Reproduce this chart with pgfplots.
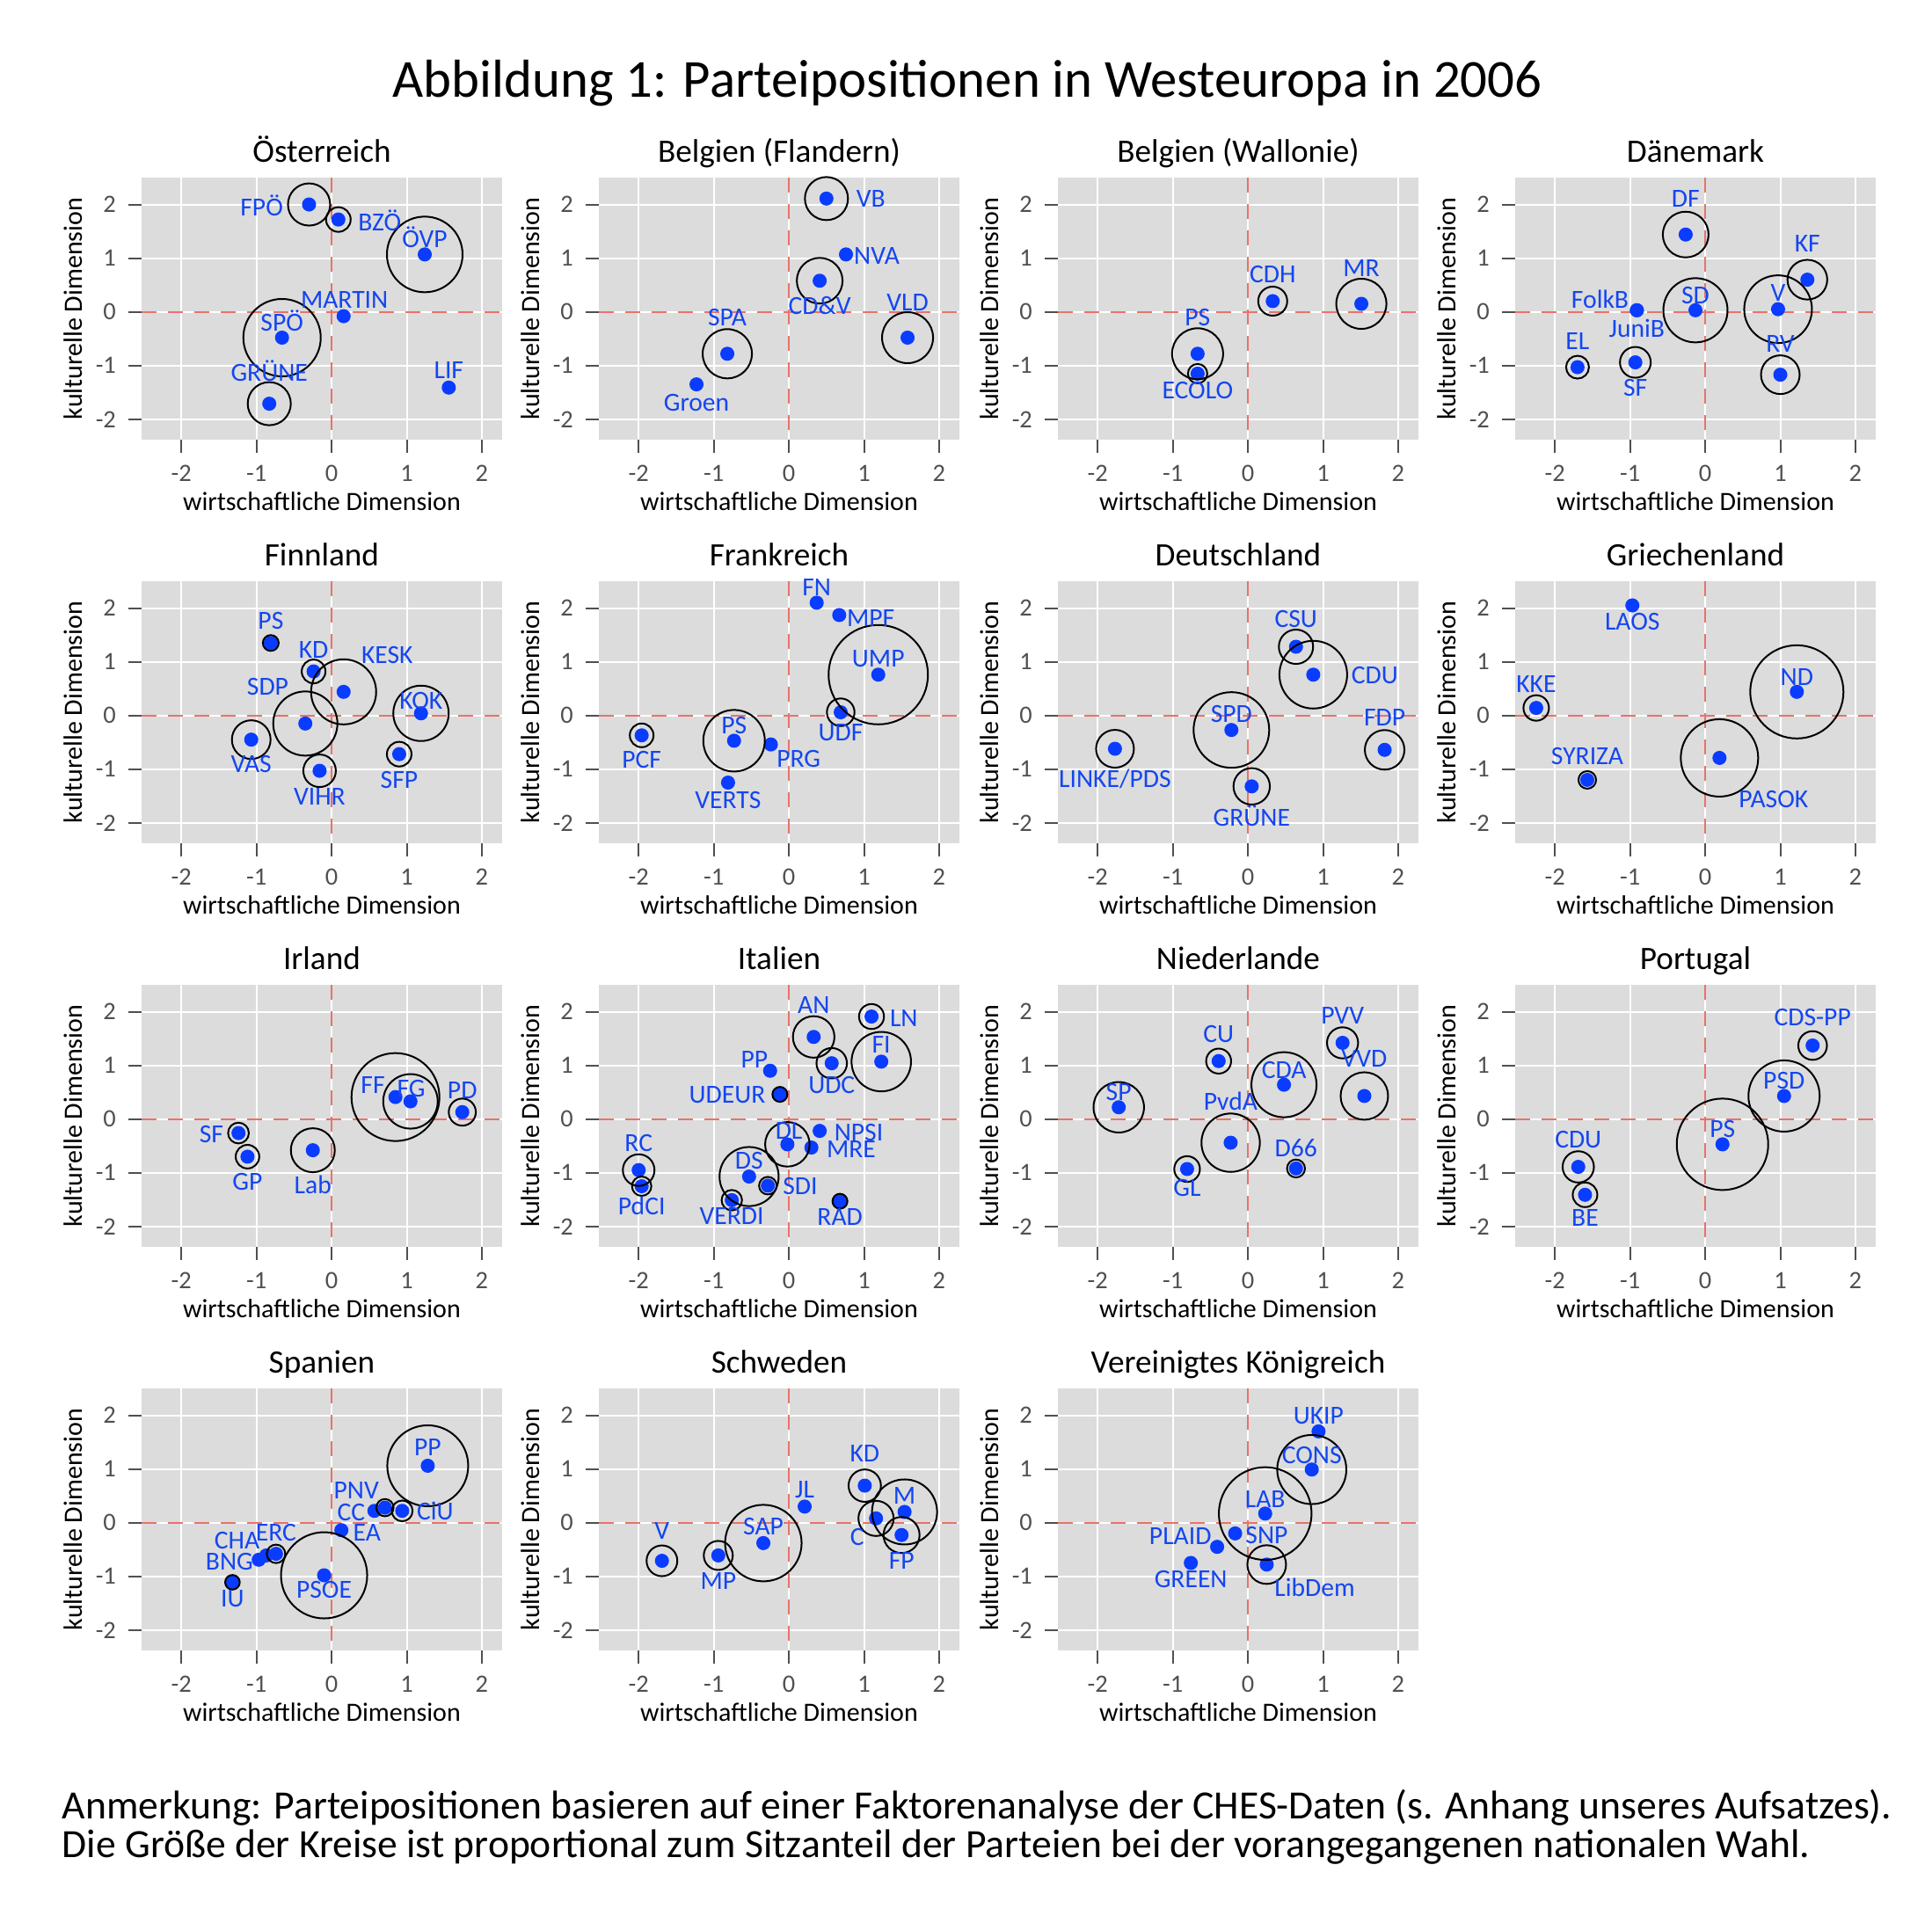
\documentclass[border=0pt]{standalone}
\usepackage{fontspec}
\setmainfont{Carlito}
\usepackage{pgfplots}
\usepackage{pgfplotstable}
\pgfplotsset{compat=1.18}
\definecolor{panelbg}{RGB}{220,220,220}
\definecolor{ptblue}{RGB}{10,60,255}
\definecolor{labblue}{RGB}{20,70,240}
\definecolor{zerored}{RGB}{232,115,106}
\definecolor{tickgray}{RGB}{80,80,80}

\pgfplotsset{
  panel/.style={
    anchor=north west,
    scale only axis, width=102.5pt, height=74.5pt,
    xmin=-2.53, xmax=2.27, ymin=-2.38, ymax=2.5,
    axis background/.style={fill=panelbg},
    axis line style={draw=none},
    xtick={-2,-1,0,1,2}, ytick={-2,-1,0,1,2},
    xticklabels={-2,-1,0,1,2}, yticklabels={-2,-1,0,1,2},
    grid=major, major grid style={white, line width=0.5pt},
    tick align=outside, tick pos=left, major tick length=3.75pt,
    tick style={tickgray, line width=0.5pt},
    ticklabel style={font=\fontsize{7.1}{8.5}\selectfont, text=tickgray},
    xlabel={wirtschaftliche Dimension}, ylabel={kulturelle Dimension},
    label style={font=\fontsize{7.5}{9}\selectfont},
    xlabel style={at={(axis description cs:0.5,-0.235)}, anchor=center},
    ylabel style={at={(axis description cs:-0.19,0.5)}, anchor=center},
    every axis title shift=0pt,
    title style={at={(axis description cs:0.5,1.0604)}, anchor=base, inner sep=0pt, font=\fontsize{9.3}{11}\selectfont},
  },
  zeroline/.style={zerored, line width=0.5pt, dash pattern=on 4.25pt off 3.25pt, mark=none},
  ptstyle/.style={only marks, mark=*, mark size=1.8pt, mark options={draw=ptblue, fill=ptblue}},
  circstyle/.style={scatter, only marks, mark=o,
    scatter/use mapped color={draw=black, fill=none},
    mark options={line width=0.5pt},
    visualization depends on={0.25*\thisrow{r} \as \rr},
    scatter/@pre marker code/.append style={/tikz/mark size=\rr},
    restrict expr to domain={\thisrow{r}}{1:1000}},
  labstyle/.style={only marks, mark=none, nodes near coords, point meta=explicit symbolic,
    every node near coord/.append style={anchor=center, text=labblue, inner sep=0pt,
      font=\fontsize{7.4}{8.5}\selectfont}},
}

\newcommand{\panel}[4]{%
\begin{axis}[panel, at={(#1,#2)}, title={#3}]
  \addplot[zeroline] coordinates {(-2.53,0) (2.27,0)};
  \addplot[zeroline] coordinates {(0,2.5) (0,-2.38)};
  \addplot[ptstyle] table[x=x,y=y] {#4};
  \addplot[circstyle] table[x=x,y=y] {#4};
  \addplot[labstyle] table[x=lx,y=ly,meta=lab] {#4};
\end{axis}}

\pgfplotstableread{
x y r lx ly lab
-0.30 2.00 24 -0.93 1.98 FPÖ
0.09 1.72 14 0.64 1.70 BZÖ
1.24 1.07 43 1.24 1.39 ÖVP
0.16 -0.08 0 0.17 0.23 MARTIN
-0.66 -0.48 44 -0.66 -0.17 SPÖ
-0.83 -1.71 24.5 -0.83 -1.10 GRÜNE
1.56 -1.41 0 1.56 -1.09 LIF
}\tabAT

\pgfplotstableread{
x y r lx ly lab
0.50 2.11 24.5 1.09 2.10 VB
0.76 1.07 0 1.17 1.05 NVA
0.41 0.58 26 0.41 0.12 CD\&V
-0.82 -0.78 28 -0.82 -0.11 SPA
-1.23 -1.35 0 -1.23 -1.70 Groen
1.58 -0.48 29 1.58 0.18 VLD
}\tabBF

\pgfplotstableread{
x y r lx ly lab
0.33 0.20 16.5 0.33 0.70 CDH
1.51 0.15 28.5 1.51 0.82 MR
-0.67 -0.78 29 -0.67 -0.11 PS
-0.67 -1.15 11 -0.67 -1.46 ECOLO
}\tabBW

\pgfplotstableread{
x y r lx ly lab
-0.26 1.44 26 -0.26 2.11 DF
1.36 0.60 22.6 1.36 1.27 KF
-0.91 0.03 0 -1.40 0.24 FolkB
-0.91 0.03 0 -0.91 -0.30 JuniB
-0.13 0.03 36.5 -0.13 0.30 SD
0.97 0.05 38.5 0.97 0.35 V
1.00 -1.17 22 1.00 -0.59 RV
-1.70 -1.03 13 -1.70 -0.54 EL
-0.93 -0.94 17.5 -0.93 -1.41 SF
}\tabDK

\pgfplotstableread{
x y r lx ly lab
-0.81 1.35 9 -0.81 1.77 PS
-0.24 0.82 13.5 -0.24 1.22 KD
0.16 0.44 37 0.74 1.13 KESK
-0.35 -0.15 36.5 -0.85 0.53 SDP
1.19 0.04 31.5 1.19 0.27 KOK
-1.07 -0.45 22 -1.07 -0.91 VAS
0.90 -0.72 14 0.90 -1.20 SFP
-0.16 -1.03 18.5 -0.16 -1.51 VIHR
}\tabFI

\pgfplotstableread{
x y r lx ly lab
0.37 2.10 0 0.37 2.38 FN
0.67 1.87 0 1.09 1.82 MPF
1.19 0.76 56.5 1.19 1.05 UMP
0.69 0.06 15.7 0.69 -0.32 UDF
-1.96 -0.37 13.5 -1.96 -0.83 PCF
-0.73 -0.47 35 -0.73 -0.19 PS
-0.24 -0.54 0 0.13 -0.81 PRG
-0.81 -1.25 0 -0.81 -1.58 VERTS
}\tabFR

\pgfplotstableread{
x y r lx ly lab
0.64 1.28 19.5 0.64 1.80 CSU
0.87 0.76 38.5 1.69 0.75 CDU
-0.22 -0.27 43 -0.22 0.02 SPD
1.82 -0.64 22.5 1.82 -0.03 FDP
-1.77 -0.62 21.5 -1.77 -1.18 LINKE/PDS
0.05 -1.32 20.7 0.05 -1.86 GRÜNE
}\tabDE

\pgfplotstableread{
x y r lx ly lab
-0.97 2.05 0 -0.97 1.74 LAOS
1.22 0.44 53 1.22 0.72 ND
-2.25 0.14 14.5 -2.25 0.59 KKE
-1.57 -1.20 10 -1.57 -0.76 SYRIZA
0.19 -0.79 44 0.91 -1.56 PASOK
}\tabGR

\pgfplotstableread{
x y r lx ly lab
0.85 0.41 50 0.55 0.64 FF
1.05 0.33 31 1.06 0.57 FG
1.74 0.13 15.4 1.74 0.54 PD
-1.24 -0.26 11.8 -1.60 -0.29 SF
-1.12 -0.70 13.4 -1.12 -1.16 GP
-0.25 -0.58 25 -0.25 -1.23 Lab
}\tabIE

\pgfplotstableread{
x y r lx ly lab
0.33 1.53 23.6 0.33 2.12 AN
1.10 1.91 14.2 1.53 1.88 LN
1.23 1.07 33.8 1.23 1.39 FI
-0.25 0.90 0 -0.46 1.11 PP
0.57 1.04 17.3 0.57 0.63 UDC
-0.12 0.46 8.5 -0.82 0.45 UDEUR
-0.02 -0.47 25.3 0.00 -0.22 DL
0.41 -0.22 0 0.93 -0.25 NPSI
0.30 -0.53 0 0.83 -0.56 MRE
-2.00 -0.95 18 -2.00 -0.45 RC
-1.96 -1.25 11 -1.96 -1.62 PdCI
-0.53 -1.07 33.6 -0.53 -0.77 DS
-0.28 -1.24 10 0.15 -1.25 SDI
-0.76 -1.51 11.6 -0.76 -1.80 VERDI
0.68 -1.53 8.5 0.68 -1.83 RAD
}\tabIT

\pgfplotstableread{
x y r lx ly lab
1.26 1.42 17.7 1.26 1.93 PVV
-0.39 1.08 14.2 -0.39 1.58 CU
0.48 0.64 37 0.48 0.92 CDA
1.55 0.43 27 1.55 1.12 VVD
-1.72 0.22 28.7 -1.72 0.50 SP
-0.23 -0.44 33.2 -0.23 0.34 PvdA
-0.81 -0.93 14.6 -0.81 -1.28 GL
0.64 -0.92 10.2 0.64 -0.54 D66
}\tabNL

\pgfplotstableread{
x y r lx ly lab
1.43 1.37 16.3 1.43 1.89 CDS-PP
1.05 0.43 40.5 1.05 0.71 PSD
0.23 -0.47 52 0.23 -0.19 PS
-1.69 -0.89 17.8 -1.69 -0.38 CDU
-1.60 -1.41 14 -1.60 -1.84 BE
}\tabPT

\pgfplotstableread{
x y r lx ly lab
1.28 1.06 46 1.28 1.40 PP
0.57 0.22 0 0.26 0.19 CC
0.71 0.28 9.8 0.33 0.60 PNV
0.94 0.22 11.8 1.38 0.22 CiU
0.13 -0.14 0 0.47 -0.18 EA
-0.74 -0.58 10.5 -0.74 -0.18 ERC
-0.87 -0.61 0 -1.26 -0.33 CHA
-0.97 -0.69 0 -1.36 -0.72 BNG
-1.32 -1.11 8.3 -1.32 -1.42 IU
-0.10 -0.98 49 -0.10 -1.25 PSOE
}\tabES

\pgfplotstableread{
x y r lx ly lab
1.01 0.69 18.4 1.01 1.29 KD
1.54 0.20 37 1.54 0.51 M
1.16 0.08 20 0.91 -0.26 C
1.50 -0.23 20.5 1.50 -0.71 FP
0.21 0.30 0 0.21 0.61 JL
-0.34 -0.38 43.5 -0.34 -0.07 SAP
-1.69 -0.71 17.5 -1.69 -0.16 V
-0.94 -0.61 16.5 -0.94 -1.08 MP
}\tabSE

\pgfplotstableread{
x y r lx ly lab
0.94 1.70 0 0.94 1.99 UKIP
0.85 0.99 39.3 0.85 1.26 CONS
0.23 0.17 52.7 0.23 0.44 LAB
-0.17 -0.20 0 0.25 -0.23 SNP
-0.41 -0.45 0 -0.90 -0.25 PLAID
-0.76 -0.75 0 -0.76 -1.06 GREEN
0.25 -0.78 22 0.89 -1.20 LibDem
}\tabUK

\begin{document}
\begin{tikzpicture}
\path[use as bounding box] (0,0) rectangle (549.25pt,-544.5pt);
\node[anchor=center, font=\fontsize{15.2}{18}\selectfont] at (275pt,-23.75pt) {Abbildung 1: Parteipositionen in Westeuropa in 2006};

\panel{40.25pt}{-50.5pt}{Österreich}{\tabAT}
\panel{170.25pt}{-50.5pt}{Belgien (Flandern)}{\tabBF}
\panel{300.75pt}{-50.5pt}{Belgien (Wallonie)}{\tabBW}
\panel{430.75pt}{-50.5pt}{Dänemark}{\tabDK}

\panel{40.25pt}{-165.25pt}{Finnland}{\tabFI}
\panel{170.25pt}{-165.25pt}{Frankreich}{\tabFR}
\panel{300.75pt}{-165.25pt}{Deutschland}{\tabDE}
\panel{430.75pt}{-165.25pt}{Griechenland}{\tabGR}

\panel{40.25pt}{-280pt}{Irland}{\tabIE}
\panel{170.25pt}{-280pt}{Italien}{\tabIT}
\panel{300.75pt}{-280pt}{Niederlande}{\tabNL}
\panel{430.75pt}{-280pt}{Portugal}{\tabPT}

\panel{40.25pt}{-394.75pt}{Spanien}{\tabES}
\panel{170.25pt}{-394.75pt}{Schweden}{\tabSE}
\panel{300.75pt}{-394.75pt}{Vereinigtes Königreich}{\tabUK}

\node[anchor=west, inner sep=0pt, font=\fontsize{11.4}{13}\selectfont] at (17.5pt,-514pt) {Anmerkung: Parteipositionen basieren auf einer Faktorenanalyse der CHES-Daten (s. Anhang unseres Aufsatzes).};
\node[anchor=west, inner sep=0pt, font=\fontsize{11.4}{13}\selectfont] at (17.5pt,-525.25pt) {Die Größe der Kreise ist proportional zum Sitzanteil der Parteien bei der vorangegangenen nationalen Wahl.};
\end{tikzpicture}
\end{document}
